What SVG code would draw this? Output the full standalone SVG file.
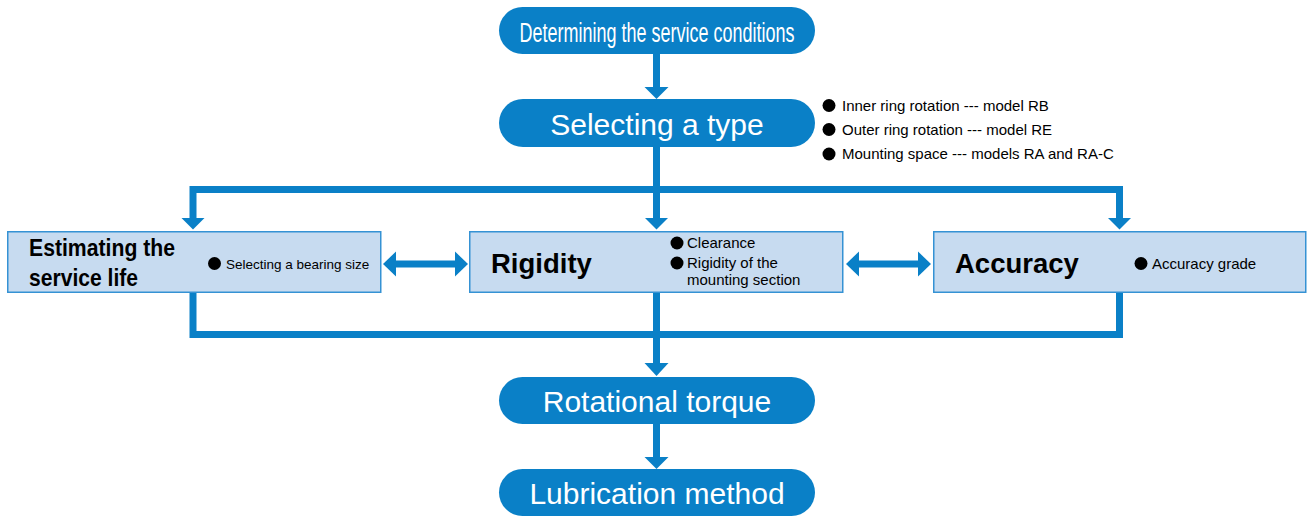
<svg xmlns="http://www.w3.org/2000/svg" width="1307" height="517" viewBox="0 0 1307 517">
<style>
.pill{fill:#0a80c7}
.pt{fill:#fff;font-family:"Liberation Sans",Arial,sans-serif;font-size:30px;text-anchor:middle}
.box{fill:#c7dbf0;stroke:#3592d4;stroke-width:1.5}
.bt{fill:#000;font-family:"Liberation Sans",Arial,sans-serif;font-weight:bold;font-size:27.5px}
.st{fill:#000;font-family:"Liberation Sans",Arial,sans-serif;font-size:15px}
.bul{fill:#000}
.ln{fill:none;stroke:#0a80c7;stroke-width:7;stroke-linejoin:miter;stroke-linecap:butt}
.hd{fill:#0a80c7}
</style>
<rect width="1307" height="517" fill="#fff"/>
<g id="connectors">
<path class="ln" d="M656.5,54V88"/>
<polygon class="hd" points="644.5,87 668.5,87 656.5,99"/>
<path class="ln" d="M656.5,147V219"/>
<path class="ln" d="M193,219V189.5H1119.5V219"/>
<polygon class="hd" points="181.5,218 204.5,218 193,229.5"/>
<polygon class="hd" points="645,218 668,218 656.5,229.5"/>
<polygon class="hd" points="1108,218 1131,218 1119.5,229.5"/>
<path class="ln" d="M193,293V334.5H1119.5V293"/>
<path class="ln" d="M656.5,293V364"/>
<polygon class="hd" points="644.5,363 668.5,363 656.5,376"/>
<path class="ln" d="M656.5,424V458"/>
<polygon class="hd" points="644.5,457 668.5,457 656.5,469"/>
<path class="ln" d="M394,264H457"/>
<polygon class="hd" points="383,264 396,251.5 396,276.5"/>
<polygon class="hd" points="468,264 455,251.5 455,276.5"/>
<path class="ln" d="M857,264H920"/>
<polygon class="hd" points="846,264 859,251.5 859,276.5"/>
<polygon class="hd" points="931,264 918,251.5 918,276.5"/>
</g>
<g id="n-determining">
<rect class="pill" x="499" y="7" width="316" height="47" rx="23.5"/>
<text class="pt" x="657" y="42" style="font-family:'Liberation Sans Narrow','Liberation Sans',Arial,sans-serif;font-size:27px" textLength="275" lengthAdjust="spacingAndGlyphs">Determining the service conditions</text>
</g>
<g id="n-selecting">
<rect class="pill" x="499" y="99" width="316" height="48" rx="24"/>
<text class="pt" x="657" y="135">Selecting a type</text>
<circle class="bul" cx="829" cy="105.5" r="6.5"/>
<text class="st" x="842" y="110.5">Inner ring rotation --- model RB</text>
<circle class="bul" cx="829" cy="129.5" r="6.5"/>
<text class="st" x="842" y="134.5">Outer ring rotation --- model RE</text>
<circle class="bul" cx="829" cy="154" r="6.5"/>
<text class="st" x="842" y="159">Mounting space --- models RA and RA-C</text>
</g>
<g id="n-life">
<rect class="box" x="7.75" y="231.75" width="373" height="60.5"/>
<text class="bt" x="29" y="256" style="font-size:24px" textLength="146" lengthAdjust="spacingAndGlyphs">Estimating the</text>
<text class="bt" x="29" y="285.5" style="font-size:24px" textLength="109" lengthAdjust="spacingAndGlyphs">service life</text>
<circle class="bul" cx="214.5" cy="263.5" r="6.5"/>
<text class="st" x="226" y="269" style="font-size:13.5px">Selecting a bearing size</text>
</g>
<g id="n-rigidity">
<rect class="box" x="469.75" y="231.75" width="373" height="60.5"/>
<text class="bt" x="491" y="273">Rigidity</text>
<circle class="bul" cx="677" cy="243" r="6.5"/>
<text class="st" x="687" y="248">Clearance</text>
<circle class="bul" cx="677" cy="263" r="6.5"/>
<text class="st" x="687" y="268">Rigidity of the</text>
<text class="st" x="687" y="285">mounting section</text>
</g>
<g id="n-accuracy">
<rect class="box" x="933.75" y="231.75" width="372" height="60.5"/>
<text class="bt" x="955" y="273">Accuracy</text>
<circle class="bul" cx="1141" cy="263.5" r="6.5"/>
<text class="st" x="1152" y="269">Accuracy grade</text>
</g>
<g id="n-torque">
<rect class="pill" x="499" y="377" width="316" height="47" rx="23.5"/>
<text class="pt" x="657" y="412">Rotational torque</text>
</g>
<g id="n-lubrication">
<rect class="pill" x="499" y="469" width="316" height="47" rx="23.5"/>
<text class="pt" x="657" y="504">Lubrication method</text>
</g>
</svg>
